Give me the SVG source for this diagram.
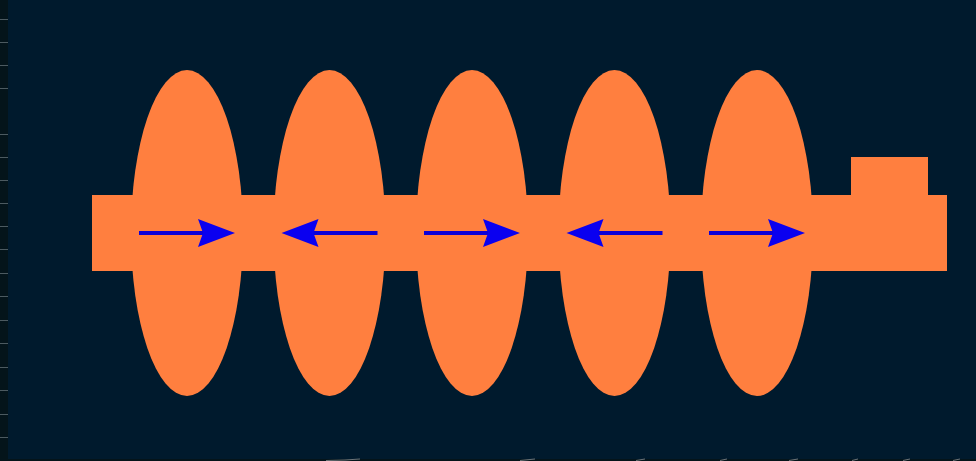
<svg xmlns="http://www.w3.org/2000/svg" width="976" height="461" viewBox="0 0 976 461">
<style>
.body{fill:#ff7f3f}
.shaft{stroke:#0c00d8;stroke-width:4;fill:none}
.head{fill:#0a00f0}
.tick{stroke:#4c5a60;stroke-width:1;fill:none}
.mark{stroke:#6c7478;stroke-width:1;fill:none}
</style>
<defs>
<g id="arrowR"><path class="shaft" d="M0 0H75"/><path class="head" d="M59-14L96 0L59 14L64 0Z"/></g>
</defs>
<rect width="976" height="461" fill="#001a2d"/>
<rect width="8" height="461" fill="#04141a"/>
<rect y="459" width="976" height="2" fill="#04141a"/>
<path class="tick" d="M0 19.500H8M0 42.500H8M0 65.500H8M0 88.500H8M0 134.500H8M0 157.500H8M0 180.500H8M0 203.500H8M0 226.500H8M0 249.500H8M0 273.500H8M0 296.500H8M0 320.500H8M0 343.500H8M0 367.500H8M0 390.500H8M0 414.500H8M0 437.500H8"/>
<path class="mark" d="M326 460.500L345 460L360 459M520 460.500L535 459M636 460.500L645 459M720 460.500L727 459M789 460.500L798 459M852 460.500L858 459M903 460.500L910 459M953 460.500L960 459"/>
<g id="cavity-1"><ellipse class="body" cx="187" cy="233" rx="56" ry="163"/></g>
<g id="cavity-2"><ellipse class="body" cx="329.500" cy="233" rx="56" ry="163"/></g>
<g id="cavity-3"><ellipse class="body" cx="472" cy="233" rx="56" ry="163"/></g>
<g id="cavity-4"><ellipse class="body" cx="614.500" cy="233" rx="56" ry="163"/></g>
<g id="cavity-5"><ellipse class="body" cx="757" cy="233" rx="56" ry="163"/></g>
<g id="pipe"><rect class="body" x="92" y="195" width="855" height="76"/><rect class="body" x="851" y="157" width="77" height="39"/></g>
<g id="connectors">
<use href="#arrowR" transform="translate(139 233)"/>
<use href="#arrowR" transform="translate(377.500 233) scale(-1 1)"/>
<use href="#arrowR" transform="translate(424 233)"/>
<use href="#arrowR" transform="translate(662.500 233) scale(-1 1)"/>
<use href="#arrowR" transform="translate(709 233)"/>
</g>
</svg>
